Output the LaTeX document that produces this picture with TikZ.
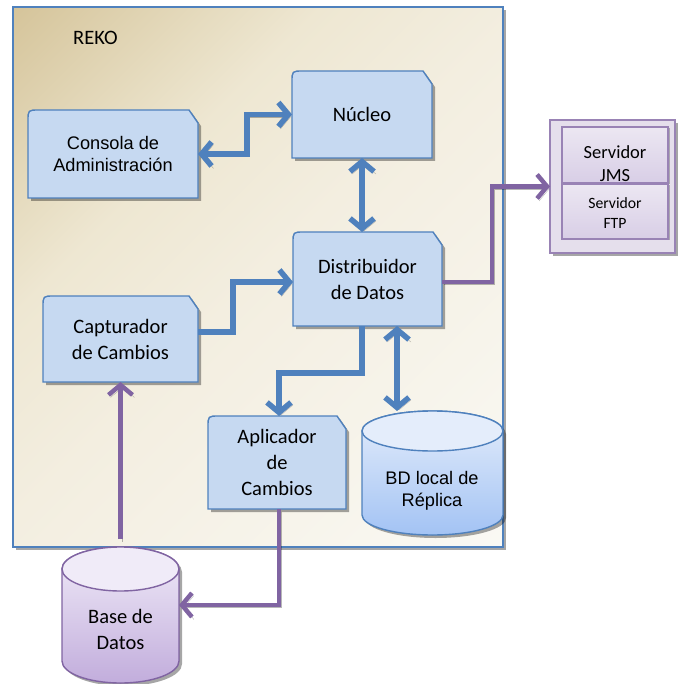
\documentclass[tikz,border=0pt]{standalone}
\usepackage{fontspec}
\setmainfont{Carlito}
\newfontfamily\arialfont{Liberation Sans}
\usetikzlibrary{arrows.meta,shadows,calc}
\pgfdeclarelayer{base}
\pgfdeclarelayer{shapes}
\pgfsetlayers{base,shapes,main}

\definecolor{boxblue}{HTML}{C6D9F1}
\definecolor{lineblue}{HTML}{4F81BD}
\definecolor{linepurple}{HTML}{8064A2}
\definecolor{tanA}{HTML}{D5C49A}
\definecolor{tanB}{HTML}{E6DCC0}
\definecolor{tanD}{HTML}{EEE7D2}
\definecolor{tanM}{HTML}{F3EEE0}
\definecolor{tanC}{HTML}{FAF9F4}
\definecolor{lavOuter}{HTML}{E5DFEC}
\definecolor{lavA}{HTML}{ECE7F2}
\definecolor{lavB}{HTML}{D8CEE6}
\definecolor{dbtop}{HTML}{F0EBF8}
\definecolor{dbbot}{HTML}{C2ADDC}
\definecolor{cyltop}{HTML}{E4EDFB}
\definecolor{cylbot}{HTML}{A3C3F4}

% background of the REKO frame: tan corner fading to cream (25bp..75bp span the shaded box)
\pgfdeclareverticalshading{rekoshade}{100bp}{color(0bp)=(tanC); color(25bp)=(tanC);
  color(50bp)=(tanM); color(60bp)=(tanD); color(65bp)=(tanB); color(75bp)=(tanA); color(100bp)=(tanA)}

\tikzset{
  >={Straight Barb[length=10pt,width=24pt]},
  softshadow/.style={drop shadow={shadow xshift=3pt,shadow yshift=-3pt,fill=black,opacity=0.35}},
  txt/.style={inner sep=0pt, align=center, font=\fontsize{20.5}{26}\selectfont},
  txtarial/.style={inner sep=0pt, align=center, font=\arialfont\fontsize{18.2}{22.5}\selectfont},
  slot/.style={inner sep=0pt, outer sep=0pt},
  container/.style={slot, fill=tanC, softshadow},
  frameline/.style={draw=lineblue, line width=1.8pt},
  boxshape/.style={fill=boxblue, draw=lineblue, line width=1.4pt, softshadow},
  serverouter/.style={slot, fill=lavOuter, draw=linepurple!80, line width=1.4pt, softshadow},
  serverinner/.style={slot, top color=lavA, bottom color=lavB, draw=linepurple!80, line width=1.4pt,
    drop shadow={shadow xshift=1.5pt,shadow yshift=-1.5pt,fill=black,opacity=0.25}},
  cylblue/.style={top color=cyltop, bottom color=cylbot, draw=lineblue, line width=1.4pt, softshadow},
  cylbluecap/.style={fill=cyltop, draw=lineblue, line width=1.4pt},
  cylpurple/.style={top color=dbtop, bottom color=dbbot, draw=linepurple, line width=1.4pt, softshadow},
  cylpurplecap/.style={fill=dbtop, draw=linepurple, line width=1.4pt},
  flowshadow/.style={preaction={draw=black, opacity=0.28, transform canvas={shift={(2pt,-2.5pt)}}}},
  flowblue/.style={flowshadow, draw=lineblue, line width=5.5pt},
  flowpurple/.style={flowshadow, draw=linepurple, line width=4.5pt},
}

% box with a rounded top-left corner and a clipped top-right corner
\newcommand\snipbox[1]{%
  \begin{pgfonlayer}{shapes}
    \filldraw[boxshape] (#1.south west) -- ([yshift=-11pt]#1.north west)
      .. controls (#1.north west) .. ([xshift=11pt]#1.north west)
      -- ([xshift=-9pt]#1.north east) -- ([yshift=-13pt]#1.north east)
      -- (#1.south east) -- cycle;
  \end{pgfonlayer}}

% database cylinder: node name, x radius, y radius, body style, cap style
\newcommand\dbcyl[5]{%
  \begin{pgfonlayer}{shapes}
    \filldraw[#4] ([yshift=-#3]#1.north west) -- ([yshift=#3]#1.south west)
      arc[start angle=180,end angle=360,x radius=#2,y radius=#3]
      -- ([yshift=-#3]#1.north east)
      arc[start angle=0,end angle=180,x radius=#2,y radius=#3] -- cycle;
    \filldraw[#5] ([yshift=-#3]#1.north) ellipse[x radius=#2,y radius=#3];
  \end{pgfonlayer}}

\begin{document}
\begin{tikzpicture}[x=1pt,y=-1pt]
\useasboundingbox (0,0) rectangle (678,684);

% REKO container: shadowed frame, diagonal shading clipped to it, border
\begin{pgfonlayer}{base}
  \node[container, minimum width=490pt, minimum height=540pt] (reko) at (258,277) {};
  \begin{scope}
    \clip (reko.south west) rectangle (reko.north east);
    \begin{scope}[transform canvas={rotate around={45:(reko.center)}}]
      \shade[shading=rekoshade]
        ([shift={(-420pt,-364pt)}]reko.center) rectangle ([shift={(420pt,364pt)}]reko.center);
    \end{scope}
  \end{scope}
  \draw[frameline] (reko.south west) rectangle (reko.north east);
\end{pgfonlayer}
\node[txt, anchor=west] (rekolabel) at (73,38) {REKO};

% components inside REKO
\node[txt, slot, minimum width=140pt, minimum height=87pt] (nucleo) at (362,114.5) {Núcleo};
\snipbox{nucleo}
\node[txtarial, slot, minimum width=170pt, minimum height=88pt] (consola) at (113,154) {Consola de\\Administración};
\snipbox{consola}
\node[txt, slot, minimum width=149pt, minimum height=94pt] (distrib) at (367.5,279) {Distribuidor\\de Datos};
\snipbox{distrib}
\node[txt, slot, minimum width=155pt, minimum height=86pt] (capt) at (120.5,339) {Capturador\\de Cambios};
\snipbox{capt}
\node[txt, slot, minimum width=138pt, minimum height=93pt] (aplic) at (277,462.5) {Aplicador\\de\\Cambios};
\snipbox{aplic}

% local replica database
\node[slot, minimum width=141pt, minimum height=124pt] (bd) at (432.5,473) {};
\dbcyl{bd}{70.5pt}{20pt}{cylblue}{cylbluecap}
\node[txtarial] (bdtext) at (432,491) {BD local de\\Réplica};

% source database
\node[slot, minimum width=117pt, minimum height=136pt] (bdd) at (120.5,615) {};
\dbcyl{bdd}{58.5pt}{22pt}{cylpurple}{cylpurplecap}
\node[txt] (bddtext) at (120.5,629) {Base de\\Datos};

% servers
\node[serverouter, minimum width=125pt, minimum height=133pt] (serv) at (612.5,186.5) {};
\node[serverinner, minimum width=106pt, minimum height=56pt] (jms) at (615,155) {};
\node[serverinner, minimum width=106pt, minimum height=55pt] (ftp) at (615,211.5) {};
\node[inner sep=0pt, align=center, font=\fontsize{18.5}{23}\selectfont] (jmstext) at (615,164) {Servidor\\JMS};
\node[inner sep=0pt, align=center, font=\fontsize{15.7}{20.7}\selectfont] (ftptext) at (615,213) {Servidor\\FTP};

% routing columns and bends
\coordinate (k1) at (247,0);
\coordinate (k2) at (233,0);
\coordinate (k3) at (279,373);
\coordinate (k4) at (397,0);
\coordinate (k5) at (492,0);
\coordinate (dout) at ([yshift=-3pt]distrib.east);
\coordinate (cout) at ([yshift=7pt]capt.east);

% blue connectors
\draw[flowblue,<->] (consola.east) -- (consola.east -| k1) |- (nucleo.west);
\draw[flowblue,<->] (nucleo.south) -- (nucleo.south |- distrib.north);
\draw[flowblue,->] (cout) -- (cout -| k2) |- ([yshift=-3pt]distrib.west);
\draw[flowblue,->] ([xshift=-5.5pt]distrib.south) |- (k3) -- (k3 |- aplic.north);
\draw[flowblue,<->] (distrib.south -| k4) -- (bd.north -| k4);

% purple connectors
\draw[flowpurple,->] (dout) -- (dout -| k5) |- (serv.west);
\draw[flowpurple,->] ([yshift=8pt]bdd.north) -- (capt.south);
\draw[flowpurple,->] ([xshift=2pt]aplic.south) |- ([yshift=10pt]bdd.east);

\end{tikzpicture}
\end{document}
